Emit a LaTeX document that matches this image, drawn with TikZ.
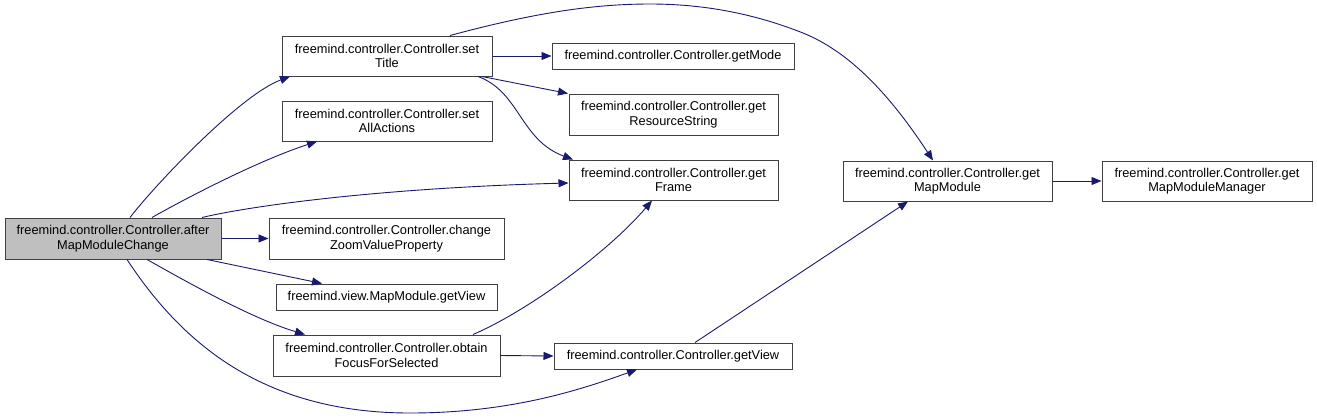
\documentclass[tikz,border=0pt]{standalone}
\usepackage{fontspec}
\setmainfont{Liberation Sans}
\usetikzlibrary{arrows.meta}
\definecolor{edgecol}{HTML}{191970}
\definecolor{boxline}{HTML}{404040}
\definecolor{boxgray}{HTML}{BFBFBF}
\tikzset{
  fn/.style={draw=boxline, line width=1pt, fill=white, inner sep=0pt, align=center,
    font=\fontsize{12.8}{14.5}\selectfont},
  call/.style={draw=edgecol, line width=0.9pt, -{Triangle[length=10pt,width=8pt]}, fill=none},
}
\begin{document}
\begin{tikzpicture}[x=1pt,y=-1pt]
\useasboundingbox (0,0) rectangle (1317,418);
% nodes
\node[fn, fill=boxgray, minimum width=216, minimum height=41] (A) at (113,238.5) {freemind.controller.Controller.after\\MapModuleChange};
\node[fn, minimum width=210, minimum height=40] (setTitle) at (387,56) {freemind.controller.Controller.set\\Title};
\node[fn, minimum width=210, minimum height=40] (setAll) at (387,121) {freemind.controller.Controller.set\\AllActions};
\node[fn, minimum width=235, minimum height=41] (zoom) at (386.5,238.5) {freemind.controller.Controller.change\\ZoomValueProperty};
\node[fn, minimum width=221, minimum height=26] (mmview) at (386.5,297) {freemind.view.MapModule.getView};
\node[fn, minimum width=227, minimum height=41] (focus) at (386.5,355.5) {freemind.controller.Controller.obtain\\FocusForSelected};
\node[fn, minimum width=242, minimum height=26] (mode) at (673,56) {freemind.controller.Controller.getMode};
\node[fn, minimum width=209, minimum height=41] (res) at (673.5,114.5) {freemind.controller.Controller.get\\ResourceString};
\node[fn, minimum width=209, minimum height=40] (frame) at (673.5,180) {freemind.controller.Controller.get\\Frame};
\node[fn, minimum width=238, minimum height=26] (view) at (673,356) {freemind.controller.Controller.getView};
\node[fn, minimum width=209, minimum height=40] (mapmod) at (947.5,181) {freemind.controller.Controller.get\\MapModule};
\node[fn, minimum width=210, minimum height=40] (mmm) at (1207,181) {freemind.controller.Controller.get\\MapModuleManager};
% edges
\draw[call] ([xshift=17pt]A.north) .. controls (155,185) and (240,95) .. ([xshift=-97pt]setTitle.south);
\draw[call] ([xshift=39pt]A.north) .. controls (190,196) and (260,160) .. ([xshift=-70pt]setAll.south);
\draw[call] ([xshift=89pt]A.north) .. controls (250,206) and (380,188) .. ([yshift=-3pt]frame.west);
\draw[call] (A.east) -- (zoom.west);
\draw[call] ([xshift=94pt]A.south) -- ([xshift=-64.5pt]mmview.north);
\draw[call] ([xshift=34pt]A.south) .. controls (180,278) and (250,318) .. ([xshift=-81.5pt]focus.north);
\draw[call] ([xshift=14pt]A.south) .. controls (180,340) and (260,413) .. (410,413) .. controls (510,413) and (580,390) .. ([xshift=-36pt]view.south);
\draw[call] (setTitle.east) -- (mode.west);
\draw[call] ([xshift=95pt]setTitle.south) -- ([xshift=-105.5pt]res.north);
\draw[call] ([xshift=91pt]setTitle.south) .. controls (520,92) and (520,140) .. ([xshift=-100.5pt]frame.north);
\draw[call] ([xshift=63pt]setTitle.north) .. controls (530,14) and (590,4) .. (650,4) .. controls (710,4) and (760,16) .. (803,33) .. controls (850,52) and (890,95) .. ([xshift=-14.5pt]mapmod.north);
\draw[call] ([xshift=86.5pt]focus.north) .. controls (530,310) and (610,250) .. ([xshift=-21.5pt]frame.south);
\draw[call] (focus.east) -- (view.west);
\draw[call] ([xshift=22pt]view.north) -- ([xshift=-39.5pt]mapmod.south);
\draw[call] (mapmod.east) -- (mmm.west);
\end{tikzpicture}
\end{document}
